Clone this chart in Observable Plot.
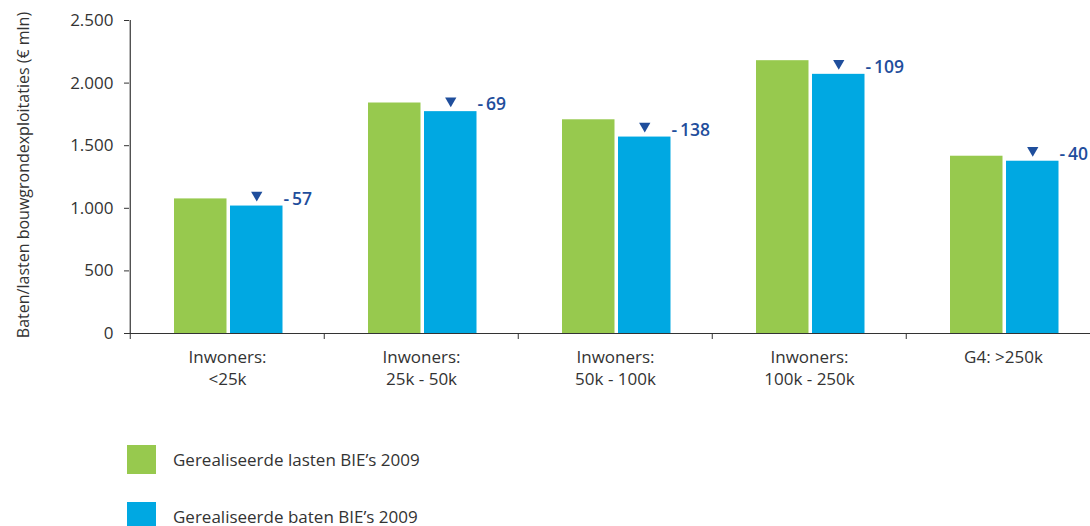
<!DOCTYPE html>
<html><head><meta charset="utf-8">
<script src="https://cdn.jsdelivr.net/npm/d3@7"></script>
<script src="https://cdn.jsdelivr.net/npm/@observablehq/plot@0.6"></script>
<style>
html,body{margin:0;padding:0;background:#fff;overflow:hidden;}
#wrap{width:1090px;overflow:hidden;font-family:"Open Sans",sans-serif;color:#333;}
#wrap svg{max-width:none !important;}
.legend{margin-left:127px;margin-top:50px;}
.item{display:flex;align-items:center;height:29px;margin-bottom:28px;font-size:17px;color:#333;}
.sw{width:29px;height:29px;margin-right:17px;}
</style></head>
<body><div id="wrap"></div>
<script>
const categories = ["Inwoners:\n<25k","Inwoners:\n25k - 50k","Inwoners:\n50k - 100k","Inwoners:\n100k - 250k","G4: >250k"];
const lasten = [1075, 1841, 1707, 2179, 1416];
const baten = [1018, 1772, 1569, 2070, 1376];
const verschil = [-57, -69, -138, -109, -40];
const seriesNames = ["Gerealiseerde lasten BIE\u2019s 2009","Gerealiseerde baten BIE\u2019s 2009"];
const yLabel = "Baten/lasten bouwgrondexploitaties (€ mln)";
const colors = ["#97c94e","#00a8e2"];
const yTicks = [0,500,1000,1500,2000,2500];

const nl = d3.formatLocale({decimal:",", thousands:".", grouping:[3], currency:["€",""]});
const fmt = nl.format(",");
const bw = (1101.5 - 129) / categories.length;

const plot = Plot.plot({
  width: 1140, height: 395,
  marginLeft: 129, marginRight: 38.5, marginTop: 20, marginBottom: 62,
  style: {fontFamily: "Open Sans, sans-serif", fontSize: "17px", color: "#333", overflow: "visible", maxWidth: "none"},
  x: {domain: categories, padding: 0, axis: null},
  y: {domain: [0, 2500], axis: null},
  marks: [
    Plot.barY(categories, {x: d => d, y: (d, i) => lasten[i], fill: colors[0], insetLeft: 44, insetRight: bw - 97}),
    Plot.barY(categories, {x: d => d, y: (d, i) => baten[i], fill: colors[1], insetLeft: 100, insetRight: bw - 153}),
    Plot.ruleY([0], {stroke: "#333", strokeWidth: 1.2}),
    Plot.ruleX([categories[0]], {y1: 0, y2: 2500, dx: -bw / 2, stroke: "#333", strokeWidth: 1.2}),
    Plot.axisY({ticks: yTicks, tickSize: 5, tickPadding: 11, tickFormat: fmt, label: null, fontSize: 17, fill: "#333", stroke: "#333"}),
    Plot.text([yLabel], {text: d => d, frameAnchor: "left", textAnchor: "middle", rotate: -90, dx: -106, dy: -2, fontSize: 16, fill: "#333"}),
    Plot.axisX({tickSize: 6, dx: -bw / 2, text: null, stroke: "#333"}),
    Plot.axisX({tickSize: 0, tickPadding: 14, label: null, fontSize: 17, lineHeight: 1.3, fill: "#333"}),
    Plot.dot(categories, {x: d => d, y: (d, i) => baten[i], dx: 126.5 - bw / 2, dy: -11, symbol: "triangle", rotate: 180, r: 4.2, fill: "#1f4e9c", stroke: null}),
    Plot.text(categories, {x: d => d, y: (d, i) => baten[i], text: (d, i) => "-\u2009" + Math.abs(verschil[i]), dx: 56, dy: -7, textAnchor: "start", fontSize: 17.5, fontWeight: 600, fill: "#1f4e9c"})
  ]
});
const wrap = document.getElementById("wrap");
wrap.appendChild(plot);
const leg = document.createElement("div");
leg.className = "legend";
seriesNames.forEach((n, i) => {
  const it = document.createElement("div"); it.className = "item";
  const sw = document.createElement("div"); sw.className = "sw"; sw.style.background = colors[i];
  const t = document.createElement("span"); t.textContent = n;
  it.appendChild(sw); it.appendChild(t); leg.appendChild(it);
});
wrap.appendChild(leg);
</script></body></html>
